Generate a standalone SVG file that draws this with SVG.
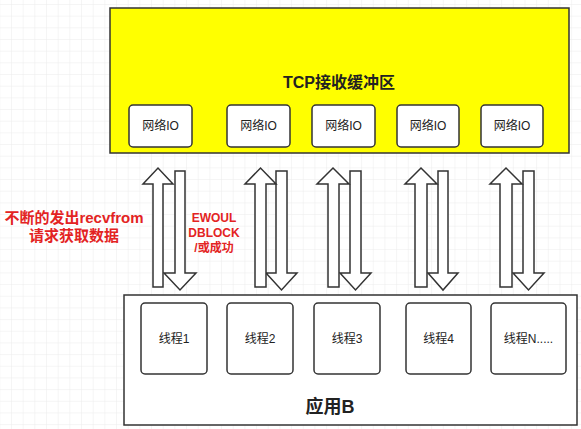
<svg xmlns="http://www.w3.org/2000/svg" width="581" height="429" viewBox="0 0 581 429">
<defs>
<pattern id="grid" x="11" y="4" width="11.67" height="11.67" patternUnits="userSpaceOnUse">
<path d="M0 0 H11.67 M0 0 V11.67" fill="none" stroke="#ececec" stroke-width="1"/>
</pattern>
<style>
.box{fill:#ffffff;stroke:#333333;stroke-width:1.5}
.lbl{font-family:"Liberation Sans","Noto Sans CJK SC",sans-serif;font-size:12px;fill:#222222;text-anchor:middle}
.arr{fill:#ffffff;stroke:#333333;stroke-width:1.5;stroke-linejoin:miter}
.red{font-family:"Liberation Sans","Noto Sans CJK SC",sans-serif;font-weight:bold;fill:#e32323;text-anchor:middle}
</style>
</defs>
<rect width="581" height="429" fill="#ffffff"/>
<rect width="581" height="429" fill="url(#grid)"/>

<g id="tcp-buffer">
<rect x="110" y="8" width="459" height="145" fill="#ffff00" stroke="#333333" stroke-width="1.5"/>
<text x="339" y="88" font-family="'Liberation Sans','Noto Sans CJK SC',sans-serif" font-size="16" font-weight="bold" fill="#222222" text-anchor="middle">TCP接收缓冲区</text>
</g>
<g id="io1"><rect class="box" x="129" y="105" width="63" height="42" rx="4"/><text class="lbl" x="160.5" y="130">网络IO</text></g>
<g id="io2"><rect class="box" x="227" y="105" width="63" height="42" rx="4"/><text class="lbl" x="258.5" y="130">网络IO</text></g>
<g id="io3"><rect class="box" x="312" y="105" width="63" height="42" rx="4"/><text class="lbl" x="343.5" y="130">网络IO</text></g>
<g id="io4"><rect class="box" x="397" y="105" width="62" height="42" rx="4"/><text class="lbl" x="428" y="130">网络IO</text></g>
<g id="io5"><rect class="box" x="481" y="105" width="62" height="42" rx="4"/><text class="lbl" x="512" y="130">网络IO</text></g>

<g id="app-b">
<rect x="124" y="295" width="453" height="130" fill="#ffffff" stroke="#333333" stroke-width="1.5"/>
<text x="330" y="413" font-family="'Liberation Sans','Noto Sans CJK SC',sans-serif" font-size="18" font-weight="bold" fill="#222222" text-anchor="middle">应用B</text>
</g>
<g id="t1"><rect class="box" x="141" y="303" width="66" height="71" rx="4"/><text class="lbl" x="174" y="343">线程1</text></g>
<g id="t2"><rect class="box" x="227" y="303" width="66" height="71" rx="4"/><text class="lbl" x="260" y="343">线程2</text></g>
<g id="t3"><rect class="box" x="314" y="303" width="66" height="71" rx="4"/><text class="lbl" x="347" y="343">线程3</text></g>
<g id="t4"><rect class="box" x="406" y="303" width="65" height="71" rx="4"/><text class="lbl" x="438.5" y="343">线程4</text></g>
<g id="t5"><rect class="box" x="491" y="303" width="75" height="71" rx="4"/><text class="lbl" x="528.5" y="343">线程N.....</text></g>

<g id="connectors">
<!-- down arrows drawn first -->
<path class="arr" d="M175 171 H185 V273 H196 L180 290 L164 273 H175 Z"/>
<path class="arr" d="M276 171 H287 V273 H297 L281.5 290 L266 273 H276 Z"/>
<path class="arr" d="M350 171 H361 V273 H371 L355.5 290 L340 273 H350 Z"/>
<path class="arr" d="M438 171 H448 V273 H458 L443 290 L428 273 H438 Z"/>
<path class="arr" d="M523 171 H534 V273 H544 L528.5 290 L513 273 H523 Z"/>
<!-- up arrows -->
<path class="arr" d="M153 287 V184 H143 L158 168 L173 184 H163 V287 Z"/>
<path class="arr" d="M255 287 V184 H245 L260.5 168 L276 184 H266 V287 Z"/>
<path class="arr" d="M328 287 V184 H317 L333 168 L349 184 H339 V287 Z"/>
<path class="arr" d="M415 287 V184 H405 L421 168 L437 184 H427 V287 Z"/>
<path class="arr" d="M500 287 V184 H490 L506 168 L522 184 H512 V287 Z"/>
</g>

<g id="label-request">
<text class="red" x="74" y="223" font-size="15">不断的发出recvfrom</text>
<text class="red" x="74" y="241" font-size="15">请求获取数据</text>
</g>
<g id="label-result">
<text class="red" x="214" y="222" font-size="12">EWOUL</text>
<text class="red" x="214" y="237" font-size="12">DBLOCK</text>
<text class="red" x="214" y="252" font-size="12">/或成功</text>
</g>
</svg>
